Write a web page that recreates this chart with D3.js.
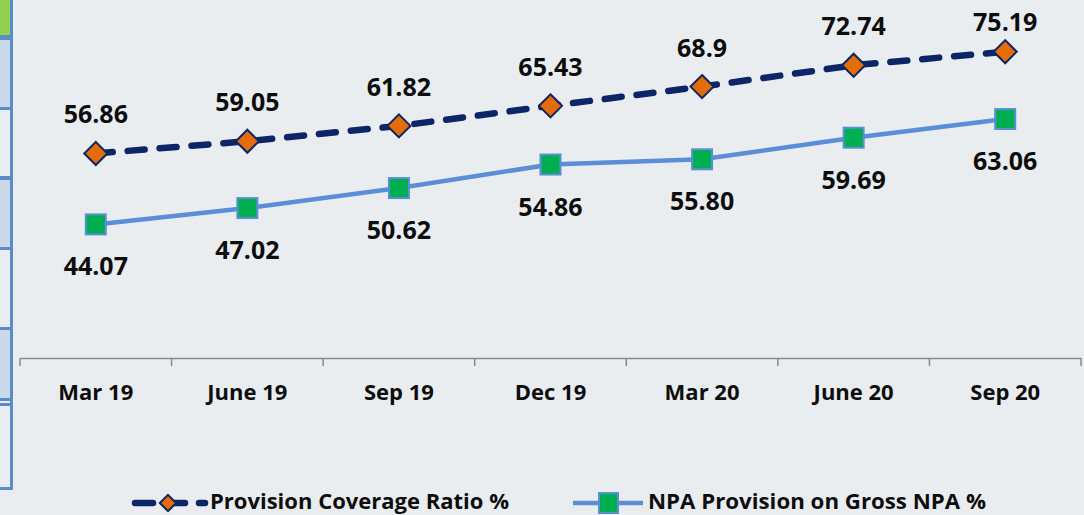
<!DOCTYPE html>
<html>
<head>
<meta charset="utf-8">
<script src="https://cdn.jsdelivr.net/npm/d3@7"></script>
<style>
    html, body { margin: 0; padding: 0; background: #eaedf0; }
    svg { display: block; font-family: 'Open Sans', sans-serif; }
</style>
</head>
<body>
<div id="chart"></div>
<script>
// Chart data
const categories = ['Mar 19', 'June 19', 'Sep 19', 'Dec 19', 'Mar 20', 'June 20', 'Sep 20'];
const pcrValues = [56.86, 59.05, 61.82, 65.43, 68.9, 72.74, 75.19];
const pcrLabels = ['56.86', '59.05', '61.82', '65.43', '68.9', '72.74', '75.19'];
const npaValues = [44.07, 47.02, 50.62, 54.86, 55.80, 59.69, 63.06];
const npaLabels = ['44.07', '47.02', '50.62', '54.86', '55.80', '59.69', '63.06'];
const seriesNames = ['Provision Coverage Ratio %', 'NPA Provision on Gross NPA %'];

const W = 1084, H = 515;
const navy = '#0b2566';
const orange = '#e46c0a';
const lightBlue = '#5b8ed8';
const green = '#00b050';
const textColor = '#0d0d0d';

const svg = d3.select('#chart')
    .append('svg')
    .attr('width', W)
    .attr('height', H);

svg.append('rect')
    .attr('width', W)
    .attr('height', H)
    .attr('fill', '#eaedf0');

// Cropped table panel at the left edge
const cells = [
    { y0: 0, y1: 35, fill: '#92d050' },
    { y0: 40, y1: 107, fill: '#c9d9ea' },
    { y0: 110, y1: 176, fill: '#e8edf3' },
    { y0: 180, y1: 247, fill: '#c9d9ea' },
    { y0: 250, y1: 327, fill: '#e8edf3' },
    { y0: 330, y1: 398, fill: '#c9d9ea' },
    { y0: 401, y1: 403, fill: '#e8edf3' },
    { y0: 406, y1: 487, fill: '#e8edf3' }
];
svg.append('rect')
    .attr('x', 0).attr('y', 0)
    .attr('width', 13).attr('height', 490)
    .attr('fill', '#5a8cc9');
svg.selectAll('.cell')
    .data(cells)
    .join('rect')
    .attr('class', 'cell')
    .attr('x', 0)
    .attr('y', d => d.y0)
    .attr('width', 10)
    .attr('height', d => d.y1 - d.y0)
    .attr('fill', d => d.fill);

// Scales
const x = d3.scaleBand()
    .domain(categories)
    .range([20, 1081]);

const y = d3.scaleLinear()
    .domain([20, 80])
    .range([358, 25]);

const cx = d => x(d) + x.bandwidth() / 2;

// X axis
const xAxis = svg.append('g')
    .attr('transform', 'translate(0,358)')
    .call(d3.axisBottom(x).tickSize(0).tickPadding(0));
xAxis.select('.domain')
    .attr('stroke', '#8a8a8a')
    .attr('stroke-width', 1.5);
xAxis.selectAll('text')
    .attr('y', 42)
    .attr('dy', 0)
    .attr('fill', textColor)
    .style('font-size', '22px')
    .style('font-weight', 'bold')
    .style('font-family', "'Open Sans', sans-serif");

// Tick marks at band boundaries
const boundaries = categories.map(c => x(c)).concat([x.range()[1]]);
xAxis.selectAll('.bound')
    .data(boundaries)
    .join('line')
    .attr('class', 'bound')
    .attr('x1', d => d).attr('x2', d => d)
    .attr('y1', 0).attr('y2', 8)
    .attr('stroke', '#8a8a8a')
    .attr('stroke-width', 1.5);

// Lines
const line = d3.line()
    .x((d, i) => cx(categories[i]))
    .y(d => y(d));

svg.append('path')
    .datum(npaValues)
    .attr('d', line)
    .attr('fill', 'none')
    .attr('stroke', lightBlue)
    .attr('stroke-width', 4.5);

svg.append('path')
    .datum(pcrValues)
    .attr('d', line)
    .attr('fill', 'none')
    .attr('stroke', navy)
    .attr('stroke-width', 6.5)
    .attr('stroke-linecap', 'round')
    .attr('stroke-dasharray', '17 15');

// Markers
const diamond = d3.symbol().type(d3.symbolDiamond2).size(340);
svg.selectAll('.pcr-marker')
    .data(pcrValues)
    .join('path')
    .attr('class', 'pcr-marker')
    .attr('d', diamond)
    .attr('transform', (d, i) => `translate(${cx(categories[i])},${y(d)})`)
    .attr('fill', orange)
    .attr('stroke', navy)
    .attr('stroke-width', 2);

svg.selectAll('.npa-marker')
    .data(npaValues)
    .join('rect')
    .attr('class', 'npa-marker')
    .attr('x', (d, i) => cx(categories[i]) - 10)
    .attr('y', d => y(d) - 10)
    .attr('width', 20)
    .attr('height', 20)
    .attr('fill', green)
    .attr('stroke', lightBlue)
    .attr('stroke-width', 2);

// Data labels (PCR above, kept inside the top edge)
svg.selectAll('.pcr-label')
    .data(pcrValues)
    .join('text')
    .attr('class', 'pcr-label')
    .attr('x', (d, i) => cx(categories[i]))
    .attr('y', d => Math.max(y(d) - 30, 31))
    .attr('text-anchor', 'middle')
    .attr('fill', textColor)
    .style('font-size', '25px')
    .style('font-weight', 'bold')
    .text((d, i) => pcrLabels[i]);

svg.selectAll('.npa-label')
    .data(npaValues)
    .join('text')
    .attr('class', 'npa-label')
    .attr('x', (d, i) => cx(categories[i]))
    .attr('y', d => y(d) + 51)
    .attr('text-anchor', 'middle')
    .attr('fill', textColor)
    .style('font-size', '25px')
    .style('font-weight', 'bold')
    .text((d, i) => npaLabels[i]);

// Legend
const legend = svg.append('g').attr('class', 'legend');
const ly = 503;

legend.append('line')
    .attr('x1', 135).attr('x2', 205)
    .attr('y1', ly).attr('y2', ly)
    .attr('stroke', navy)
    .attr('stroke-width', 6.5)
    .attr('stroke-linecap', 'round')
    .attr('stroke-dasharray', '18 14');
legend.append('path')
    .attr('d', d3.symbol().type(d3.symbolDiamond2).size(170))
    .attr('transform', `translate(168,${ly})`)
    .attr('fill', orange)
    .attr('stroke', navy)
    .attr('stroke-width', 2);
legend.append('text')
    .attr('x', 210)
    .attr('y', 509)
    .attr('fill', textColor)
    .attr('textLength', 299)
    .attr('lengthAdjust', 'spacingAndGlyphs')
    .style('font-size', '21px')
    .style('font-weight', 'bold')
    .text(seriesNames[0]);

legend.append('line')
    .attr('x1', 573).attr('x2', 643)
    .attr('y1', ly).attr('y2', ly)
    .attr('stroke', lightBlue)
    .attr('stroke-width', 4.5);
legend.append('rect')
    .attr('x', 599).attr('y', ly - 10)
    .attr('width', 19).attr('height', 20)
    .attr('fill', green)
    .attr('stroke', lightBlue)
    .attr('stroke-width', 2);
legend.append('text')
    .attr('x', 648)
    .attr('y', 509)
    .attr('fill', textColor)
    .attr('textLength', 338)
    .attr('lengthAdjust', 'spacingAndGlyphs')
    .style('font-size', '21px')
    .style('font-weight', 'bold')
    .text(seriesNames[1]);
</script>
</body>
</html>
